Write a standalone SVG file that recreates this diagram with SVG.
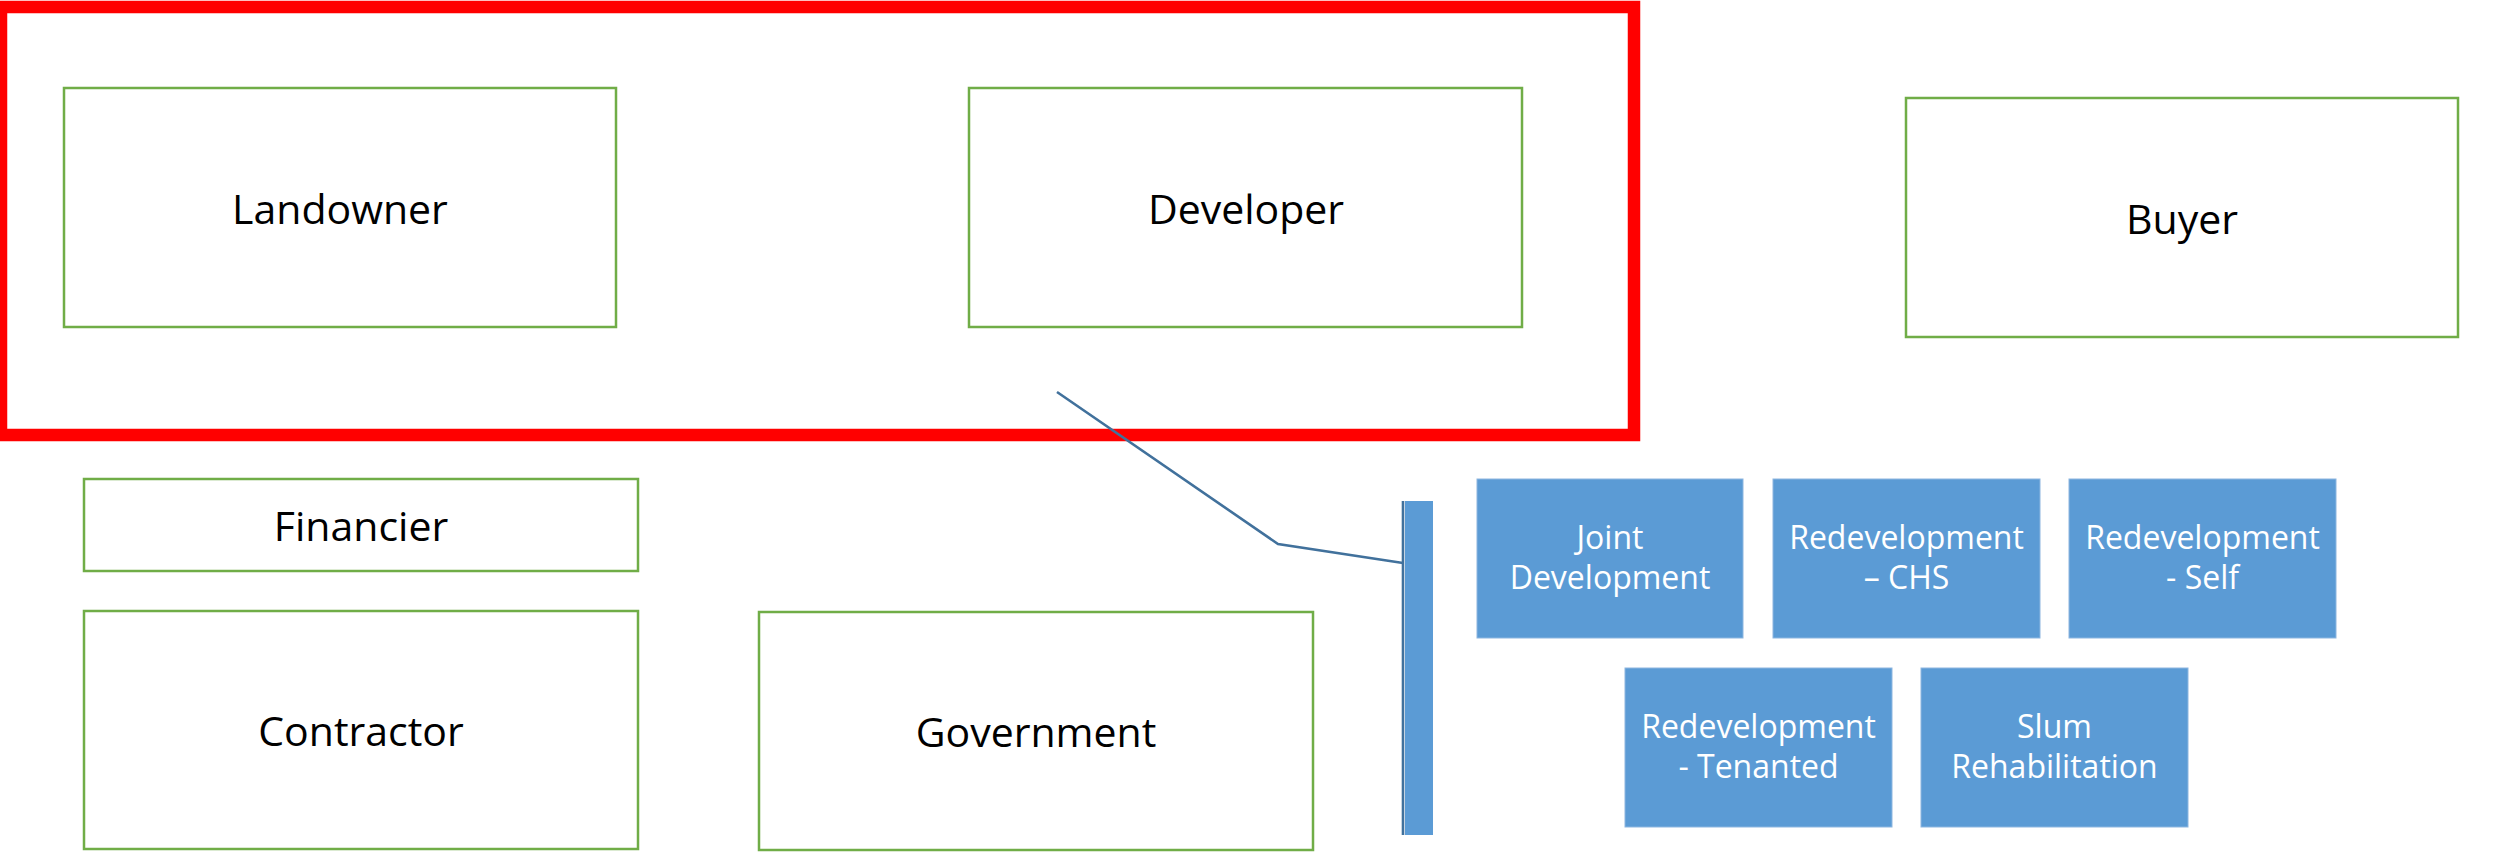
<svg xmlns="http://www.w3.org/2000/svg" width="2496" height="857" viewBox="0 0 2496 857">
<style>
.frame{fill:none;stroke:#FF0000;stroke-width:12.5}
.party{fill:#FFFFFF;stroke:#70AD47;stroke-width:2.5}
.plabel{font-family:"Open Sans","Liberation Sans",sans-serif;font-size:41px;fill:#000000;text-anchor:middle}
.model{fill:#5B9BD5;stroke:#8DB6E0;stroke-width:1}
.mlabel{font-family:"Open Sans","Liberation Sans",sans-serif;font-size:32px;fill:#FFFFFF;text-anchor:middle}
.conn{fill:none;stroke:#41719C;stroke-width:2.6;stroke-linejoin:miter}
</style>
<rect width="2496" height="857" fill="#FFFFFF"/>
<g id="highlight-frame">
<rect class="frame" x="1" y="7" width="1633" height="428"/>
</g>
<g id="landowner">
<rect class="party" x="64" y="88" width="552" height="239"/>
<text class="plabel" x="340" y="224">Landowner</text>
</g>
<g id="developer">
<rect class="party" x="969" y="88" width="553" height="239"/>
<text class="plabel" x="1246" y="224">Developer</text>
</g>
<g id="buyer">
<rect class="party" x="1906" y="98" width="552" height="239"/>
<text class="plabel" x="2182" y="234">Buyer</text>
</g>
<g id="financier">
<rect class="party" x="84" y="479" width="554" height="92"/>
<text class="plabel" x="361" y="541">Financier</text>
</g>
<g id="contractor">
<rect class="party" x="84" y="611" width="554" height="238"/>
<text class="plabel" x="361" y="746">Contractor</text>
</g>
<g id="government">
<rect class="party" x="759" y="612" width="554" height="238"/>
<text class="plabel" x="1036" y="747">Government</text>
</g>
<g id="bracket-bar">
<rect x="1405" y="501" width="28" height="334" fill="#5B9BD5"/>
<line x1="1403" y1="501" x2="1403" y2="835" stroke="#41719C" stroke-width="2.6"/>
</g>
<g id="connectors">
<polyline class="conn" points="1057,392 1278,544 1403,563"/>
</g>
<g id="joint-development">
<rect class="model" x="1477" y="479" width="266" height="159"/>
<text class="mlabel" x="1610" y="549">Joint</text>
<text class="mlabel" x="1610" y="589">Development</text>
</g>
<g id="redevelopment-chs">
<rect class="model" x="1773" y="479" width="267" height="159"/>
<text class="mlabel" x="1906.5" y="549">Redevelopment</text>
<text class="mlabel" x="1906.5" y="589">– CHS</text>
</g>
<g id="redevelopment-self">
<rect class="model" x="2069" y="479" width="267" height="159"/>
<text class="mlabel" x="2202.5" y="549">Redevelopment</text>
<text class="mlabel" x="2202.5" y="589">- Self</text>
</g>
<g id="redevelopment-tenanted">
<rect class="model" x="1625" y="668" width="267" height="159"/>
<text class="mlabel" x="1758.5" y="738">Redevelopment</text>
<text class="mlabel" x="1758.5" y="778">- Tenanted</text>
</g>
<g id="slum-rehabilitation">
<rect class="model" x="1921" y="668" width="267" height="159"/>
<text class="mlabel" x="2054.5" y="738">Slum</text>
<text class="mlabel" x="2054.5" y="778">Rehabilitation</text>
</g>
</svg>
